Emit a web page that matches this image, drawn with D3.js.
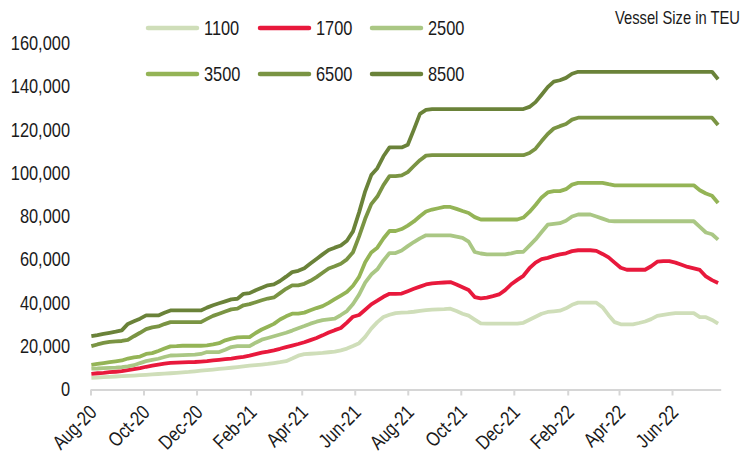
<!DOCTYPE html>
<html><head><meta charset="utf-8">
<script src="https://cdn.jsdelivr.net/npm/d3@7"></script>
<style>
body{margin:0;background:#fff}
svg{display:block}
text{font-family:"Liberation Sans",Arial,sans-serif;fill:#1a1a1a}
</style>
</head><body>
<svg id="chart" width="745" height="453"></svg>
<script>
// Weekly observations (values in thousands of USD/day), first week starting 2020-08-02
const startDate = "2020-08-02";
const stepDays = 7;
const seriesNames = ["1100","1700","2500","3500","6500","8500"];
const s1100 = [5.4,5.55,5.7,5.85,6.0,6.15,6.3,6.45,6.6,6.8, 7.0,7.15,7.35,7.5,7.7,7.9,8.1,8.4,8.7,8.95, 9.2,9.5,9.8,10.05,10.35,10.7,11.0,11.25,11.5,11.8, 12.2,12.6,13.1,14.3,15.6,16.3,16.5,16.7,16.9,17.2, 17.5,18.1,18.9,20.1,21.4,24.3,28.1,31.1,33.5,34.5, 35.3,35.5,35.6,35.9,36.3,36.7,36.9,37.0,37.1,37.3, 36.2,35.0,34.1,32.3,30.5,30.4,30.4,30.4,30.4,30.4, 30.4,30.8,32.2,33.6,35.0,35.8,36.1,36.4,37.5,39.1, 40.1,40.1,40.1,40.1,38.0,34.3,31.1,30.1,30.1,30.1, 30.7,31.4,32.5,34.0,34.5,34.9,35.3,35.3,35.3,35.3, 33.4,33.4,32.1,30.4];
const s1700 = [7.25,7.5,7.7,8.0,8.2,8.45,8.9,9.4,9.9,10.5, 11.0,11.5,11.9,12.3,12.4,12.5,12.6,12.7,12.9,13.1, 13.4,13.7,14.0,14.3,14.7,15.1,15.6,16.3,17.0,17.5, 18.1,18.8,19.6,20.3,21.0,21.8,22.8,23.8,25.0,26.3, 27.4,28.4,30.9,33.6,34.4,36.8,39.3,41.0,42.8,44.2, 44.2,44.3,45.4,46.5,47.5,48.5,49.0,49.2,49.4,49.6, 48.5,47.2,45.9,42.7,42.1,42.4,43.1,43.9,45.9,48.6, 50.6,52.5,56.0,58.6,60.2,60.8,61.7,62.4,62.9,63.9, 64.3,64.3,64.3,64.0,62.6,61.0,58.6,56.2,55.3,55.3, 55.3,55.3,56.9,59.0,59.3,59.3,58.6,57.6,56.6,55.9, 55.2,52.2,50.5,49.2];
const s2500 = [9.6,9.7,9.9,10.0,10.1,10.3,10.7,11.2,12.2,13.1, 13.7,14.2,15.0,15.7,15.8,15.9,16.0,16.1,16.4,17.3, 17.3,17.3,18.4,19.6,20.0,20.0,20.0,21.6,23.0,23.8, 24.6,25.4,26.2,27.2,28.3,29.3,30.4,31.3,32.0,32.4, 32.7,34.4,36.2,39.5,43.8,49.3,53.1,55.5,59.6,63.0, 63.0,64.2,66.2,68.1,69.8,71.2,71.2,71.2,71.2,71.2, 70.6,70.0,68.3,63.5,62.8,62.4,62.4,62.4,62.4,62.9, 63.5,63.6,66.4,69.3,72.7,76.1,76.5,76.8,77.9,79.9, 80.8,80.8,80.8,79.9,78.9,77.9,77.7,77.7,77.7,77.7, 77.7,77.7,77.7,77.7,77.7,77.7,77.7,77.7,77.7,77.7, 75.1,72.5,71.7,69.2];
const s3500 = [11.4,11.8,12.2,12.6,13.0,13.4,14.3,14.8,15.2,16.4, 16.8,17.8,18.9,19.9,20.0,20.2,20.2,20.2,20.2,20.4, 20.8,21.4,22.7,23.5,24.1,24.2,24.2,26.1,27.7,29.0, 30.3,32.3,33.8,35.0,35.0,35.5,36.6,37.6,38.5,40.0, 41.7,43.4,45.1,47.9,52.0,58.8,63.3,65.5,69.7,73.2, 73.2,74.1,75.7,77.6,80.0,82.2,83.1,83.7,84.3,84.3, 83.4,82.4,81.5,79.6,78.5,78.5,78.5,78.5,78.5,78.5, 78.5,79.4,82.0,85.2,88.7,91.0,91.6,91.6,92.5,94.6, 95.4,95.4,95.4,95.4,95.4,94.8,94.3,94.3,94.3,94.3, 94.3,94.3,94.3,94.3,94.3,94.3,94.3,94.3,94.3,94.3, 92.0,90.5,89.5,86.1];
const s6500 = [20.0,20.8,21.5,22.0,22.2,22.4,22.9,24.6,26.2,27.9, 28.7,29.1,30.2,31.1,31.1,31.1,31.1,31.1,31.1,32.6, 34.0,35.0,36.0,37.0,37.3,38.9,39.4,40.3,41.2,42.0, 42.5,44.5,46.5,48.1,48.1,48.8,50.2,51.9,53.9,55.9, 56.9,58.1,60.1,63.4,70.7,78.8,85.6,89.1,94.4,98.5, 98.5,98.9,100.4,103.2,105.9,108.0,108.2,108.2,108.2,108.2, 108.2,108.2,108.2,108.2,108.2,108.2,108.2,108.2,108.2,108.2, 108.2,108.2,109.2,111.2,114.7,118.0,120.5,121.6,122.6,124.6, 125.5,125.5,125.5,125.5,125.5,125.5,125.5,125.5,125.5,125.5, 125.5,125.5,125.5,125.5,125.5,125.5,125.5,125.5,125.5,125.5, 125.5,125.5,125.5,122.1];
const s8500 = [24.6,25.1,25.7,26.2,26.7,27.3,30.3,31.5,32.7,34.2, 34.2,34.2,35.4,36.5,36.5,36.5,36.5,36.5,36.5,37.8, 38.9,39.8,40.7,41.6,41.9,44.2,44.5,45.8,47.0,48.1, 48.5,50.1,52.1,54.2,54.8,56.0,58.2,60.3,62.4,64.4, 65.5,66.5,68.7,73.0,81.8,91.5,99.0,102.2,107.7,111.8, 111.8,111.8,113.0,120.0,127.3,129.1,129.5,129.5,129.5,129.5, 129.5,129.5,129.5,129.5,129.5,129.5,129.5,129.5,129.5,129.5, 129.5,129.5,130.5,132.7,136.1,139.6,142.2,142.8,143.9,145.8, 146.7,146.7,146.7,146.7,146.7,146.7,146.7,146.7,146.7,146.7, 146.7,146.7,146.7,146.7,146.7,146.7,146.7,146.7,146.7,146.7, 146.7,146.7,146.7,143.3];
const xTickMonths = ["2020-08","2020-10","2020-12","2021-02","2021-04","2021-06","2021-08","2021-10","2021-12","2022-02","2022-04","2022-06"];
const yTickValues = [0,20000,40000,60000,80000,100000,120000,140000,160000];
const titleText = "Vessel Size in TEU";

const seriesValues = [s1100,s1700,s2500,s3500,s6500,s8500];
const seriesColors = ["#cfdeb9","#e8193c","#aac784","#94b456","#7a9443","#6a8239"];

const NARROW = 0.82; // condensed type, as in the original
const squeeze = `scale(${NARROW},1)`;

const svg = d3.select("#chart");
const parse = d3.timeParse("%Y-%m-%d");
const parseMonth = d3.timeParse("%Y-%m");
const t0 = parse(startDate);
const dates = s1100.map((_, i) => d3.timeDay.offset(t0, i * stepDays));

const x = d3.scaleTime()
  .domain([new Date(2020,7,1), new Date(2022,6,27)])
  .range([90.5, 720.7]);
const y = d3.scaleLinear().domain([0,160000]).range([389.5,43]);

// X axis
const xAxis = d3.axisBottom(x)
  .tickValues(xTickMonths.map(parseMonth))
  .tickFormat(d3.timeFormat("%b-%y"))
  .tickSizeInner(6).tickSizeOuter(0);
const gx = svg.append("g").attr("transform","translate(0,389.5)").call(xAxis);
gx.select(".domain").attr("stroke","#d6d6d6").attr("stroke-width",2);
gx.selectAll(".tick line").attr("stroke","#d6d6d6").attr("stroke-width",2);
gx.selectAll(".tick text")
  .attr("x",null).attr("y",null).attr("dy",null)
  .attr("transform",`translate(7,24) rotate(-45) ${squeeze}`)
  .attr("text-anchor","end")
  .style("font-size","20px")
  .attr("fill","#1a1a1a");

// Y axis labels
const yAxis = d3.axisLeft(y).tickValues(yTickValues).tickSize(0).tickPadding(0)
  .tickFormat(d3.format(","));
const gy = svg.append("g").attr("transform","translate(70,0)").call(yAxis);
gy.select(".domain").remove();
gy.selectAll(".tick text").attr("x",0).attr("transform",squeeze)
  .style("font-size","20px").attr("fill","#1a1a1a");

// Lines
const line = d3.line()
  .x((d,i) => x(dates[i]))
  .y(d => y(d*1000));
svg.append("g").selectAll("path")
  .data(seriesValues)
  .join("path")
  .attr("d", d => line(d))
  .attr("fill","none")
  .attr("stroke",(d,i) => seriesColors[i])
  .attr("stroke-width",3.8)
  .attr("stroke-linejoin","round")
  .attr("stroke-linecap","butt");

// Legend
const legCols = [146, 258, 370];
const legRows = [28, 74];
const leg = svg.append("g");
seriesNames.forEach((name, i) => {
  const cx = legCols[i % 3], cy = legRows[Math.floor(i / 3)];
  leg.append("line")
    .attr("x1", cx + 2).attr("x2", cx + 51)
    .attr("y1", cy).attr("y2", cy)
    .attr("stroke", seriesColors[i]).attr("stroke-width", 4.5)
    .attr("stroke-linecap","round");
  leg.append("text")
    .attr("transform", `translate(${cx + 58},${cy}) ${squeeze}`)
    .attr("dy","0.35em")
    .style("font-size","20px")
    .text(name);
});

// Title
svg.append("text")
  .attr("transform", `translate(740,18) ${squeeze}`)
  .attr("dy","0.35em")
  .attr("text-anchor","end")
  .style("font-size","18px")
  .text(titleText);
</script>
</body></html>
